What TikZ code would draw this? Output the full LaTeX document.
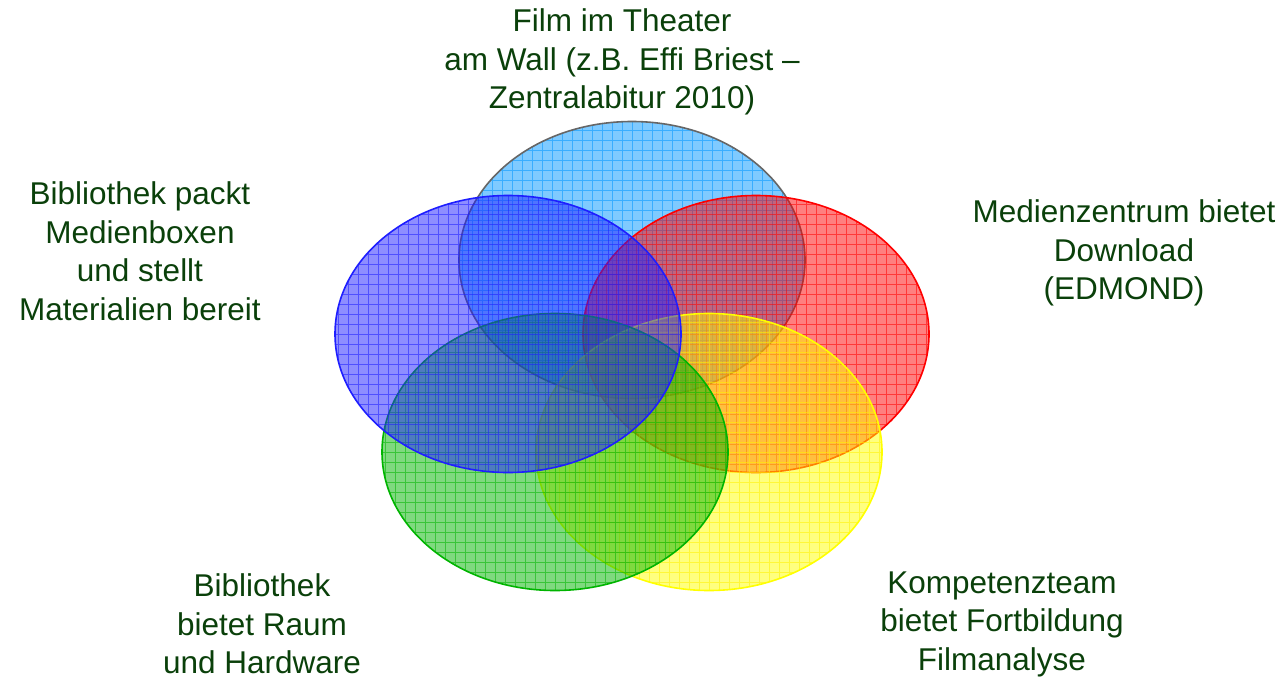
\documentclass[tikz,border=0pt]{standalone}
\usepackage{fontspec}
\setmainfont{Liberation Sans}
\usetikzlibrary{shapes.geometric}
\definecolor{txtgreen}{RGB}{10,64,10}
\definecolor{lblue}{RGB}{0,150,255}
\definecolor{dblue}{RGB}{30,30,255}
\definecolor{vred}{RGB}{255,0,0}
\definecolor{vgreen}{RGB}{0,180,0}
\definecolor{vyellow}{RGB}{255,255,0}
\tikzset{
  venn/.style n args={3}{ellipse, inner sep=0pt, minimum width=346pt, minimum height=277pt,
    fill=#1, fill opacity=0.5, draw=#3, line width=1.6pt,
    path picture={\draw[#2, opacity=0.55, line width=0.7pt, step=10pt]
      (path picture bounding box.south west) grid (path picture bounding box.north east);}},
  lbl/.style={text=txtgreen, align=center, font=\fontsize{31.5}{38.5}\selectfont}
}
\begin{document}
\begin{tikzpicture}[x=1pt,y=-1pt]
\useasboundingbox (0,0) rectangle (1285,678);
\node[venn={lblue}{lblue}{black!60}] (top) at (632,260) {};
\node[venn={vred}{vred}{vred}] (right) at (756,334) {};
\node[venn={vyellow}{vyellow!90!orange}{vyellow}] (br) at (709,452) {};
\node[venn={vgreen}{vgreen}{vgreen}] (bl) at (555,452) {};
\node[venn={dblue}{dblue}{dblue}] (left) at (508,334) {};
\node[lbl] (ttop) at (622,62) {Film im Theater\\am Wall (z.B. Effi Briest --\\Zentralabitur 2010)};
\node[lbl] (tleft) at (140,251) {Bibliothek packt\\Medienboxen\\und stellt\\Materialien bereit};
\node[lbl] (tright) at (1124,253) {Medienzentrum bietet\\Download\\(EDMOND)};
\node[lbl] (tbl) at (262,624) {Bibliothek\\bietet Raum\\und Hardware};
\node[lbl] (tbr) at (1002,624) {Kompetenzteam\\bietet Fortbildung\\Filmanalyse};
\end{tikzpicture}
\end{document}
